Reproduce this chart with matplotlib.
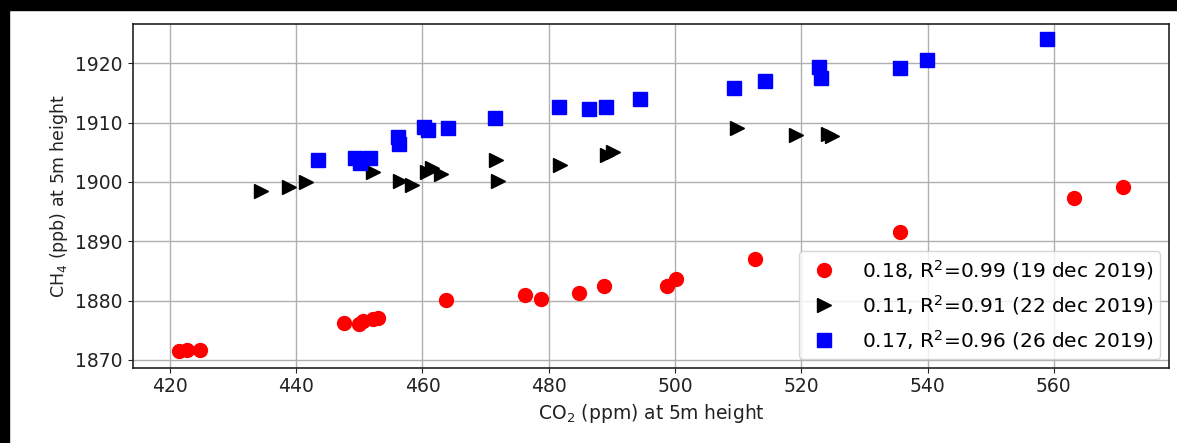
import matplotlib.pyplot as plt
from matplotlib.patches import Rectangle

# CO2 / CH4 pairs, one set per day
co2_19dec = [421.4, 422.7, 424.8, 447.6, 449.9, 450.6, 452.2, 453.0, 463.8,
             476.2, 478.7, 484.8, 488.7, 498.7, 500.2, 512.6, 535.7, 563.2, 570.9]
ch4_19dec = [1871.5, 1871.7, 1871.7, 1876.2, 1876.0, 1876.6, 1876.9, 1877.1, 1880.1,
             1881.0, 1880.3, 1881.3, 1882.5, 1882.5, 1883.7, 1887.0, 1891.5, 1897.3, 1899.2]

co2_22dec = [434.5, 438.9, 441.5, 452.1, 456.4, 458.4, 460.7, 461.5, 463.0,
             471.7, 472.0, 481.8, 489.2, 490.2, 509.8, 519.2, 524.2, 524.8]
ch4_22dec = [1898.4, 1899.1, 1900.0, 1901.7, 1900.2, 1899.4, 1901.7, 1902.3, 1901.4,
             1903.7, 1900.1, 1902.9, 1904.6, 1905.0, 1909.1, 1907.9, 1908.1, 1907.8]

co2_26dec = [443.5, 449.3, 450.1, 451.7, 456.1, 456.3, 460.3, 460.9, 464.0, 471.5,
             481.7, 486.4, 489.0, 494.4, 509.3, 514.2, 522.8, 523.1, 535.7, 539.9, 559.0]
ch4_26dec = [1903.7, 1904.1, 1903.2, 1904.1, 1907.5, 1906.4, 1909.2, 1908.7, 1909.1, 1910.8,
             1912.7, 1912.3, 1912.7, 1913.9, 1915.9, 1917.0, 1919.4, 1917.5, 1919.2, 1920.5, 1924.1]

labels = ['0.18, R$^2$=0.99 (19 dec 2019)',
          '0.11, R$^2$=0.91 (22 dec 2019)',
          '0.17, R$^2$=0.96 (26 dec 2019)']

fig = plt.figure(figsize=(11.77, 4.43), dpi=100)
ax = fig.add_axes([0.1127, 0.170, 0.8808, 0.7758])

ax.plot(co2_19dec, ch4_19dec, 'o', color='red', ms=10, label=labels[0])
ax.plot(co2_22dec, ch4_22dec, '>', color='black', ms=9.5, label=labels[1])
ax.plot(co2_26dec, ch4_26dec, 's', color='blue', ms=9.5, label=labels[2])

ax.set_xlim(414.1, 578.3)
ax.set_ylim(1868.7, 1926.6)
ax.set_xticks([420, 440, 460, 480, 500, 520, 540, 560])
ax.set_yticks([1870, 1880, 1890, 1900, 1910, 1920])
ax.tick_params(labelsize=13.5, colors='#222222')
ax.grid(True, color='#b0b0b0', linewidth=1)
ax.set_axisbelow(True)
for s in ax.spines.values():
    s.set_linewidth(1.2)
    s.set_color('#222222')

ax.set_xlabel('CO$_2$ (ppm) at 5m height', fontsize=13.5, color='#222222')
ax.set_ylabel('CH$_4$ (ppb) at 5m height', fontsize=12.5, color='#222222')

ax.legend(loc='lower right', fontsize=14.5, handlelength=1.8, handletextpad=1.0,
          labelspacing=0.55, borderaxespad=0.45, borderpad=0.35)

# dark frame along the top and left of the original screenshot
fig.patches.append(Rectangle((0, 1 - 10 / 443), 1, 10 / 443, transform=fig.transFigure,
                             color='black', zorder=10))
fig.patches.append(Rectangle((0, 0), 9 / 1177, 1, transform=fig.transFigure,
                             color='black', zorder=10))

fig.savefig('out.png', dpi=100)
